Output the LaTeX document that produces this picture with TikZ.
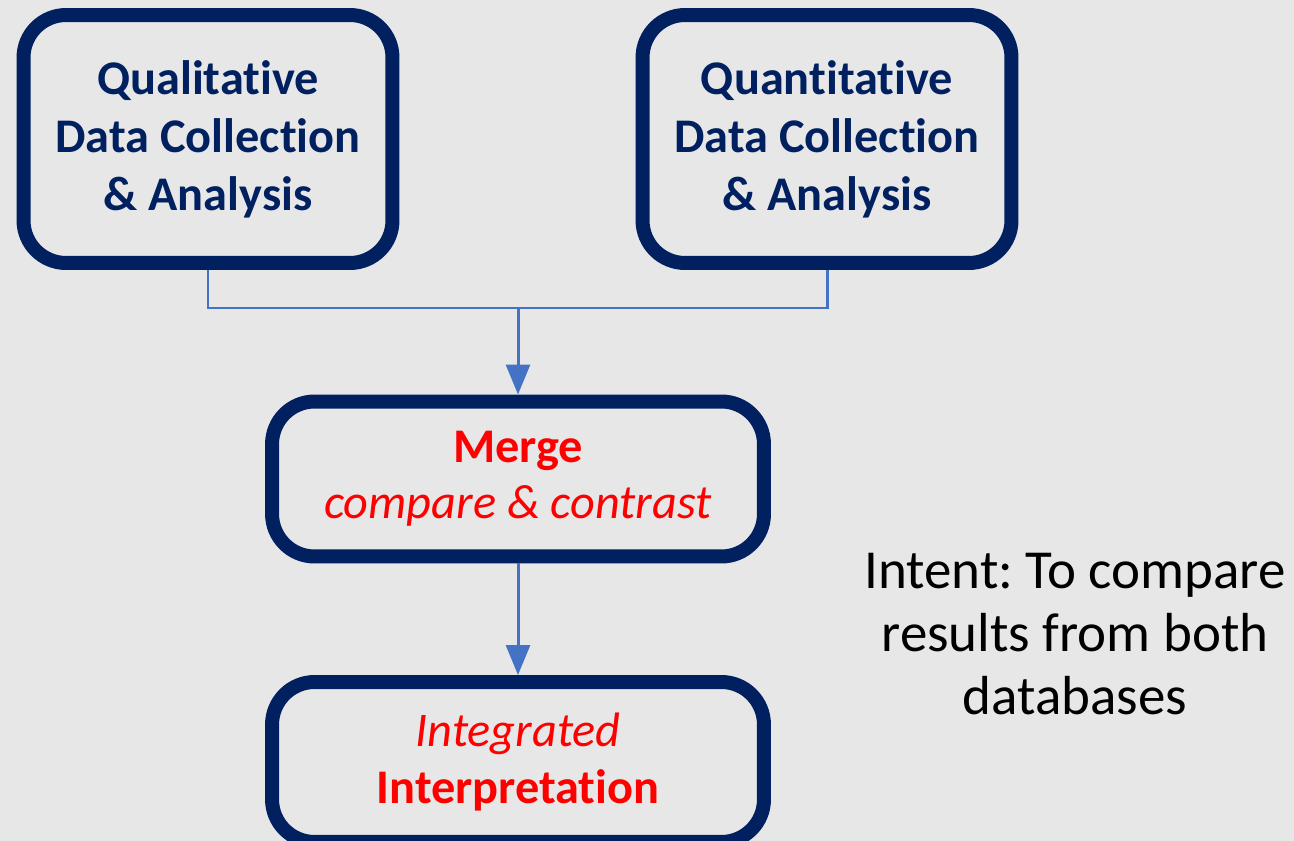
\documentclass[tikz,border=0pt]{standalone}
\usepackage{fontspec}
\setmainfont{Carlito}[Ligatures=CommonOff]
\usetikzlibrary{arrows.meta,positioning}
\definecolor{navy}{HTML}{002060}
\definecolor{linkblue}{HTML}{4472C4}
\definecolor{bggrey}{HTML}{E7E7E7}
\frenchspacing

\begin{document}
\begin{tikzpicture}[
    x=0.02cm, y=-0.02cm,
    >={Triangle[width=0.48cm,length=0.6cm]},
    box/.style={rectangle, draw=navy, line width=0.28cm, rounded corners=0.85cm, align=center, inner sep=0pt},
    topbox/.style={box, minimum width=7.38cm, minimum height=4.96cm, text=navy, font=\fontsize{27.5}{33}\selectfont\bfseries},
    redbox/.style={box, minimum width=9.84cm, text=red, font=\fontsize{27.5}{32}\selectfont},
    arr/.style={->, line width=1.7pt, color=linkblue},
    link/.style={line width=1.7pt, color=linkblue}
]
    \fill[bggrey] (0,0) rectangle (1294,841);
    \useasboundingbox (0,0) rectangle (1294,841);
    \node[topbox] (qual) at (208,139) {Qualitative\\Data Collection\\\& Analysis};
    \node[topbox] (quan) at (827,139) {Quantitative\\Data Collection\\\& Analysis};
    \node[redbox, minimum height=3.1cm] (merge) at (518,479) {\textbf{Merge}\\\textit{compare \& contrast}};
    \node[redbox, minimum height=3.2cm] (interp) at (518,762) {\textit{Integrated}\\\textbf{Interpretation}};
    \node[align=center, font=\fontsize{31.3}{36}\selectfont] (intent) at (1075,634) {Intent: To compare\\results from both\\databases};
    \coordinate (join) at (merge.north |- 0,308);
    \draw[link] (qual.south) -- (qual.south |- join) -| (quan.south);
    \draw[arr] (join) -- (merge.north);
    \draw[arr] (merge.south) -- (interp.north);
\end{tikzpicture}
\end{document}
